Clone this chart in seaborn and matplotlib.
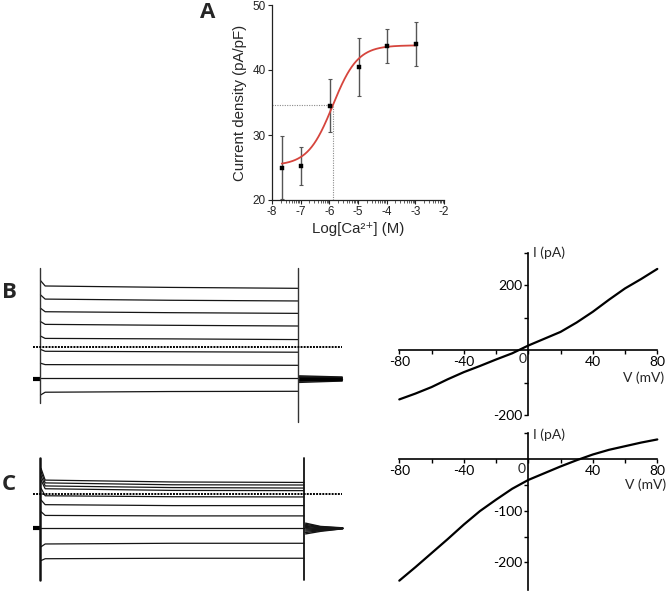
import numpy as np
import pandas as pd
import matplotlib
matplotlib.use("Agg")
import matplotlib.pyplot as plt
import seaborn as sns

# ---------------- Panel A : dose-response ----------------
log_ca = [-7.66, -6.98, -5.99, -4.96, -3.98, -2.98]
density = [25.0, 25.2, 34.5, 40.5, 43.65, 44.0]
density_sem = [4.8, 2.95, 4.1, 4.5, 2.6, 3.4]
fit_bottom, fit_top, fit_logec50, fit_hill = 25.3, 43.8, -5.88, 1.0
a_xticks = [-8, -7, -6, -5, -4, -3, -2]
a_yticks = [20, 30, 40, 50]

# ---------------- Panel B / C : I-V curves ----------------
iv_v = [-80, -70, -60, -50, -40, -30, -20, -10, 0, 10, 20, 30, 40, 50, 60, 70, 80]
iv_b = [-152, -134, -114, -90, -68, -49, -29, -10, 14, 35, 56, 85, 118, 155, 190, 219, 250]
iv_c = [-235, -209, -182, -155, -127, -101, -79, -58, -41, -28, -15, -3, 8, 17, 24, 31, 37]

# ---------------- Panel B / C : current traces (pA vs ms) ----------------
b_t = [1, 10, 250, 499]
b_i_1 = [285, 224, 167, 110, 48, -9, -68, -132, -204]
b_i_10 = [262, 206, 152, 98, 38, -17, -74, -132, -192]
b_i_250 = [256, 201, 148, 94, 36, -19, -75, -132, -189]
b_i_499 = [252, 198, 145, 91, 33, -21, -77, -132, -188]
b_hold = -135
b_step_end = 500
b_cap_on = [338, -240]
b_cap_off = [338, -319]
b_tail_t = [502, 585]
b_tail_502 = [-122, -126, -129, -132, -135, -138, -141, -145, -150]
b_tail_585 = [-127, -129, -131, -133, -135, -137, -139, -141, -144]

c_t = [2, 10, 256, 511]
c_i_2 = [108, 94, 76, 58, 23, -27, -77, -148, -227, -286]
c_i_10 = [58, 46, 33, 21, -9, -47, -93, -148, -215, -278]
c_i_256 = [50, 38, 26, 14, -13, -51, -95, -148, -212, -276]
c_i_511 = [48, 37, 24, 13, -14, -51, -95, -148, -212, -276]
c_hold = -148
c_step_end = 512
c_cap_on = [152, -369]
c_cap_off = [152, -369]
c_tail_t = [514, 543, 586]
c_tail_514 = [-126, -131, -136, -140, -145, -150, -155, -160, -166, -172]
c_tail_543 = [-140, -142, -144, -146, -148, -150, -153, -156, -158, -161]
c_tail_586 = [-146, -147, -147, -148, -148, -148, -149, -149, -150, -150]
pre_t = [-14, 0]
zero_t = [-13.5, 585]

sns.set_theme(style="ticks")
plt.rcParams['font.family'] = ['Liberation Sans', 'DejaVu Sans']

W, H = 670, 598
fig = plt.figure(figsize=(W / 100, H / 100), dpi=100)


def frac(x0, y0, x1, y1):
    return [x0 / W, 1 - y1 / H, (x1 - x0) / W, (y1 - y0) / H]


# ================= Panel A =================
axA = fig.add_axes(frac(272, 5, 444, 200))
xs = np.linspace(log_ca[0], log_ca[-1], 300)
fit_y = fit_bottom + (fit_top - fit_bottom) / (1 + 10 ** ((fit_logec50 - xs) * fit_hill))
mid = (fit_bottom + fit_top) / 2
axA.plot([-8, fit_logec50], [mid, mid], ls=(0, (1, 1.2)), color='#8a8a8a', lw=0.8)
axA.plot([fit_logec50, fit_logec50], [20, mid], ls=(0, (1, 1.2)), color='#8a8a8a', lw=0.8)
axA.errorbar(log_ca, density, yerr=density_sem, fmt='none', ecolor='#555555',
             elinewidth=1.0, capsize=1.5, capthick=0.8, clip_on=False, zorder=2)
sns.lineplot(x=xs, y=fit_y, ax=axA, color='#d6453d', lw=1.3, sort=False, zorder=3)
sns.scatterplot(x=log_ca, y=density, ax=axA, marker='s', s=12, color='black',
                edgecolor='black', linewidth=0.3, zorder=4, clip_on=False)
axA.set_xlim(-8, -2)
axA.set_ylim(20, 50)
axA.set_xticks(a_xticks)
axA.set_xticklabels([str(v) for v in a_xticks])
axA.set_yticks(a_yticks)
minor = [k + np.log10(m) for k in range(-8, -2) for m in range(2, 10)]
axA.set_xticks(minor, minor=True)
for s in ['top', 'right']:
    axA.spines[s].set_visible(False)
for s in ['left', 'bottom']:
    axA.spines[s].set_linewidth(0.9)
    axA.spines[s].set_color('#222222')
axA.tick_params(axis='both', which='major', length=3, width=0.8, labelsize=8.5,
                pad=1.5, colors='#222222')
axA.tick_params(axis='x', which='minor', length=1.8, width=0.6, colors='#444444')
axA.set_ylabel('Current density (pA/pF)', fontsize=10.8, labelpad=4)
axA.set_xlabel('Log[Ca\u00b2\u207a] (M)', fontsize=10.8, labelpad=3)

# ================= Traces =================
def trace_axes(rect, ylim):
    ax = fig.add_axes(rect)
    ax.set_xlim(-19.36, 590.4)
    ax.set_ylim(*ylim)
    ax.axis('off')
    return ax


axBt = trace_axes(frac(30, 262, 345, 426), (-336.3, 364.5))
axCt = trace_axes(frac(30, 450, 345, 585), (-390.3, 186.6))

tc = '#151515'
# B traces
for k in range(len(b_i_10)):
    axBt.plot(b_t, [b_i_1[k], b_i_10[k], b_i_250[k], b_i_499[k]], color=tc, lw=0.9)
    axBt.plot(b_tail_t, [b_tail_502[k], b_tail_585[k]], color=tc, lw=1.0)
axBt.plot(pre_t, [b_hold, b_hold], color='black', lw=3.0, solid_capstyle='butt')
axBt.plot(b_tail_t, [b_hold, b_hold], color='black', lw=2.5, solid_capstyle='butt')
axBt.plot([0, 0], b_cap_on, color='#333333', lw=1.0)
axBt.plot([b_step_end, b_step_end], b_cap_off, color='#333333', lw=1.0)
axBt.plot(zero_t, [0, 0], color='black', lw=1.4, ls=(0, (1, 0.6)))

# C traces
for k in range(len(c_i_10)):
    axCt.plot(c_t, [c_i_2[k], c_i_10[k], c_i_256[k], c_i_511[k]], color=tc, lw=0.9)
    axCt.plot(c_tail_t, [c_tail_514[k], c_tail_543[k], c_tail_586[k]], color=tc, lw=1.0)
axCt.plot(pre_t, [c_hold, c_hold], color='black', lw=3.0, solid_capstyle='butt')
axCt.plot([0, 0], c_cap_on, color='#111111', lw=1.8)
axCt.plot([c_step_end, c_step_end], c_cap_off, color='#111111', lw=1.3)
axCt.plot(zero_t, [0, 0], color='black', lw=1.4, ls=(0, (1, 0.6)))

# ================= I-V panels =================
ivfont = 'Lato'


def iv_axes(rect, v, cur, ylim, yticks, ylabels, zero_label_px, vlabel_px, ipa_px):
    ax = fig.add_axes(rect)
    sns.lineplot(x=v, y=cur, ax=ax, color='black', lw=1.6, sort=False, clip_on=False)
    ax.set_xlim(-80, 80)
    ax.set_ylim(*ylim)
    for s in ['top', 'right']:
        ax.spines[s].set_visible(False)
    for s in ['left', 'bottom']:
        ax.spines[s].set_position(('data', 0))
        ax.spines[s].set_linewidth(1.2)
        ax.spines[s].set_color('black')
    xt = [-80, -60, -40, -20, 0, 20, 40, 60, 80]
    ax.set_xticks(xt)
    ax.set_xticklabels(['-80', '', '-40', '', '', '', '40', '', '80'],
                       fontfamily=ivfont, fontsize=10)
    ax.set_yticks(yticks)
    ax.set_yticklabels(ylabels, fontfamily=ivfont, fontsize=10)
    ax.tick_params(axis='both', direction='out', length=3, width=1.0, pad=1.5,
                   colors='black')
    fig.text(zero_label_px[0] / W, 1 - zero_label_px[1] / H, '0', fontfamily=ivfont,
             fontsize=10, ha='center', va='center')
    fig.text(vlabel_px[0] / W, 1 - vlabel_px[1] / H, 'V (mV)', fontfamily=ivfont,
             fontsize=10, ha='right', va='center')
    fig.text(ipa_px[0] / W, 1 - ipa_px[1] / H, 'I (pA)', fontfamily=ivfont,
             fontsize=10, ha='left', va='center')
    return ax


iv_axes(frac(399.3, 252.7, 657.3, 415), iv_v, iv_b, (-200, 300),
        [-200, -100, 100, 200, 300], ['-200', '', '', '200', ''],
        (523, 359), (664, 378), (533, 253))
iv_axes(frac(399.3, 432.7, 657.3, 590), iv_v, iv_c, (-253, 50),
        [-200, -150, -100, -50, 50], ['-200', '', '-100', '', ''],
        (522, 469), (666, 485), (533, 435))

# ================= Panel letters =================
for letter, (px, py) in {'A': (208, 13), 'B': (9, 292), 'C': (9, 484)}.items():
    fig.text(px / W, 1 - py / H, letter, fontfamily='Open Sans', fontweight='bold',
             fontsize=16, ha='center', va='center')

fig.savefig('out.png', dpi=100)
